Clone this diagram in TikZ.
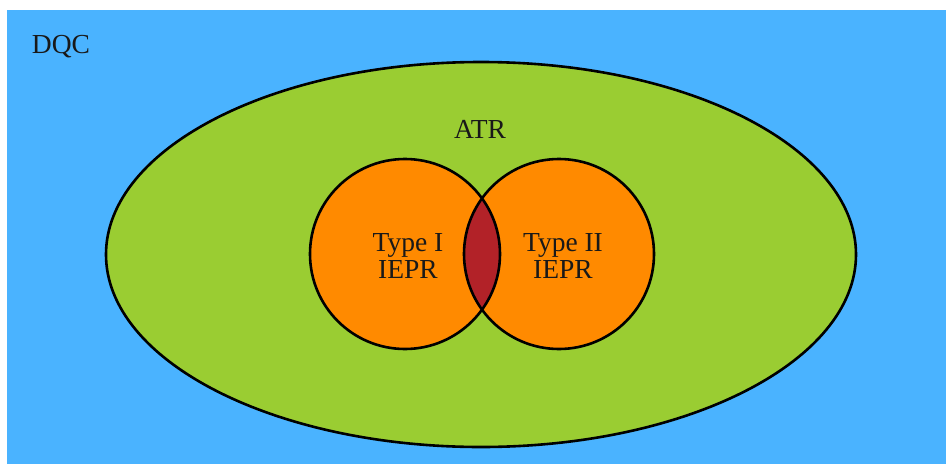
\documentclass[tikz,border=0pt]{standalone}
\usepackage{fontspec}
\setmainfont{Liberation Serif}
\definecolor{skyblue}{HTML}{4AB3FF}
\definecolor{leafgreen}{HTML}{9ACD32}
\definecolor{setorange}{HTML}{FF8A00}
\definecolor{lensred}{HTML}{B22228}
\begin{document}
\begin{tikzpicture}[x=1pt,y=-1pt,
  outline/.style={line width=2.6pt, draw=black},
  lbl/.style={font=\fontsize{27.5}{27}\selectfont, text=black!90, align=center}]
  % page and background field
  \fill[white] (0,0) rectangle (946,464);
  \useasboundingbox (0,0) rectangle (946,464);
  \fill[skyblue] (7,10) rectangle (946,464);
  % ATR region
  \filldraw[fill=leafgreen, outline] (481,254.5) ellipse [x radius=375, y radius=192.5];
  % two IEPR sets
  \fill[setorange] (405,254) circle [radius=95];
  \fill[setorange] (559,254) circle [radius=95];
  \begin{scope}
    \clip (405,254) circle [radius=95];
    \fill[lensred] (559,254) circle [radius=95];
  \end{scope}
  \draw[outline] (405,254) circle [radius=95];
  \draw[outline] (559,254) circle [radius=95];
  % labels
  \node[lbl] (dqc) at (61,47) {DQC};
  \node[lbl] (atrlabel) at (480,129) {ATR};
  \node[lbl] (type1) at (408,256) {Type I\\IEPR};
  \node[lbl] (type2) at (563,256) {Type II\\IEPR};
\end{tikzpicture}
\end{document}
